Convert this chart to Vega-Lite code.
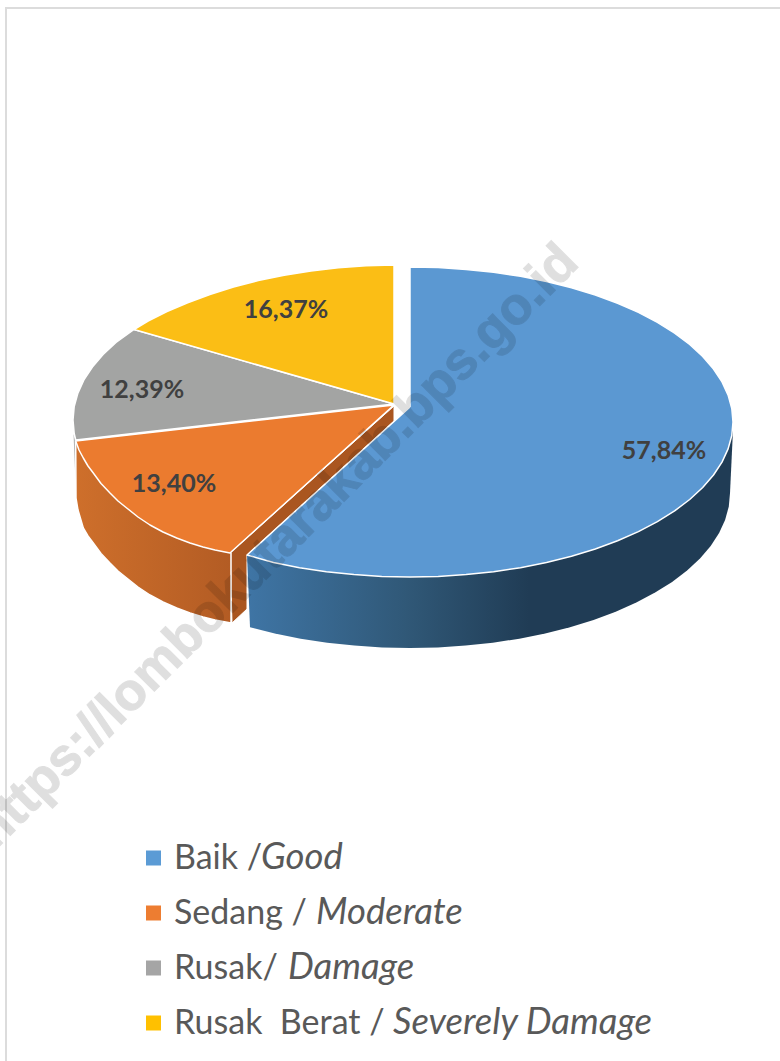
{"$schema":"https://vega.github.io/schema/vega-lite/v6.json","width":780,"height":1061,"autosize":{"type":"none"},"padding":0,"background":"white","view":{"stroke":null},
"datasets":{
"shapes":[
{"p":"frame","i":0,"x":6,"y":1061},{"p":"frame","i":1,"x":6,"y":8},{"p":"frame","i":2,"x":780,"y":8},
{"p":"gw","i":0,"x":73.5,"y":434},{"p":"gw","i":1,"x":76,"y":441},{"p":"gw","i":2,"x":78,"y":500},{"p":"gw","i":3,"x":75,"y":470},{"p":"gw","i":4,"x":73.5,"y":434},
{"p":"strip","i":0,"x":394,"y":406},{"p":"strip","i":1,"x":394,"y":421},{"p":"strip","i":2,"x":247,"y":555},{"p":"strip","i":3,"x":247,"y":609},{"p":"strip","i":4,"x":232,"y":623},{"p":"strip","i":5,"x":230,"y":553},{"p":"strip","i":6,"x":394,"y":406},
{"p":"ow","i":0,"x":75.7,"y":441},{"p":"ow","i":1,"x":76,"y":498},{"p":"ow","i":2,"x":78,"y":510},{"p":"ow","i":3,"x":83.3,"y":528},{"p":"ow","i":4,"x":88,"y":536},{"p":"ow","i":5,"x":93.3,"y":543},{"p":"ow","i":6,"x":101,"y":553.5},{"p":"ow","i":7,"x":110,"y":563},{"p":"ow","i":8,"x":118,"y":571},{"p":"ow","i":9,"x":126.7,"y":578},{"p":"ow","i":10,"x":138,"y":587},{"p":"ow","i":11,"x":150,"y":595},{"p":"ow","i":12,"x":163,"y":602},{"p":"ow","i":13,"x":176.7,"y":608},{"p":"ow","i":14,"x":190,"y":613},{"p":"ow","i":15,"x":203,"y":617},{"p":"ow","i":16,"x":215,"y":620},{"p":"ow","i":17,"x":231,"y":623},{"p":"ow","i":18,"x":231,"y":553},{"p":"ow","i":19,"x":75.7,"y":441},
{"p":"bw","i":0,"x":733,"y":430},{"p":"bw","i":1,"x":730,"y":493},{"p":"bw","i":2,"x":728.8,"y":506.5},{"p":"bw","i":3,"x":725.1,"y":519.9},{"p":"bw","i":4,"x":719.1,"y":533.1},{"p":"bw","i":5,"x":710.7,"y":546},{"p":"bw","i":6,"x":700,"y":558.5},{"p":"bw","i":7,"x":687.1,"y":570.5},{"p":"bw","i":8,"x":672.1,"y":581.9},{"p":"bw","i":9,"x":655.1,"y":592.6},{"p":"bw","i":10,"x":636.3,"y":602.6},{"p":"bw","i":11,"x":615.7,"y":611.7},{"p":"bw","i":12,"x":593.6,"y":620},{"p":"bw","i":13,"x":570,"y":627.2},{"p":"bw","i":14,"x":545.2,"y":633.5},{"p":"bw","i":15,"x":519.4,"y":638.7},{"p":"bw","i":16,"x":492.8,"y":642.7},{"p":"bw","i":17,"x":465.6,"y":645.6},{"p":"bw","i":18,"x":437.9,"y":647.4},{"p":"bw","i":19,"x":410,"y":648},{"p":"bw","i":20,"x":382.1,"y":647.4},{"p":"bw","i":21,"x":354.4,"y":645.6},{"p":"bw","i":22,"x":327.2,"y":642.7},{"p":"bw","i":23,"x":300.6,"y":638.7},{"p":"bw","i":24,"x":274.8,"y":633.5},{"p":"bw","i":25,"x":250,"y":627.2},{"p":"bw","i":26,"x":247,"y":555},{"p":"bw","i":27,"x":733,"y":430},
{"p":"grey","i":0,"x":394,"y":404},{"p":"grey","i":1,"x":134,"y":329.5},{"p":"grey","i":2,"x":116,"y":342.5},{"p":"grey","i":3,"x":103.1,"y":354.5},{"p":"grey","i":4,"x":92.4,"y":367},{"p":"grey","i":5,"x":83.9,"y":379.9},{"p":"grey","i":6,"x":77.9,"y":393.1},{"p":"grey","i":7,"x":74.2,"y":406.5},{"p":"grey","i":8,"x":73,"y":420},{"p":"grey","i":9,"x":74.2,"y":433.5},{"p":"grey","i":10,"x":75.7,"y":440},{"p":"grey","i":11,"x":394,"y":404},
{"p":"yellow","i":0,"x":394,"y":404},{"p":"yellow","i":1,"x":394,"y":265},{"p":"yellow","i":2,"x":366,"y":265.8},{"p":"yellow","i":3,"x":338.3,"y":267.8},{"p":"yellow","i":4,"x":310.9,"y":271},{"p":"yellow","i":5,"x":284.2,"y":275.3},{"p":"yellow","i":6,"x":258.3,"y":280.5},{"p":"yellow","i":7,"x":233.5,"y":287},{"p":"yellow","i":8,"x":209.9,"y":294.5},{"p":"yellow","i":9,"x":187.7,"y":302.8},{"p":"yellow","i":10,"x":167,"y":311.5},{"p":"yellow","i":11,"x":148.1,"y":321},{"p":"yellow","i":12,"x":134,"y":329.5},{"p":"yellow","i":13,"x":394,"y":404},
{"p":"orange","i":0,"x":394,"y":405},{"p":"orange","i":1,"x":75.7,"y":441},{"p":"orange","i":2,"x":79,"y":450},{"p":"orange","i":3,"x":83.3,"y":458},{"p":"orange","i":4,"x":88,"y":466},{"p":"orange","i":5,"x":93.3,"y":473},{"p":"orange","i":6,"x":101,"y":483.5},{"p":"orange","i":7,"x":110,"y":493},{"p":"orange","i":8,"x":118,"y":501},{"p":"orange","i":9,"x":126.7,"y":508},{"p":"orange","i":10,"x":138,"y":517},{"p":"orange","i":11,"x":150,"y":525},{"p":"orange","i":12,"x":163,"y":532},{"p":"orange","i":13,"x":176.7,"y":538},{"p":"orange","i":14,"x":190,"y":543},{"p":"orange","i":15,"x":203,"y":547},{"p":"orange","i":16,"x":215,"y":550},{"p":"orange","i":17,"x":230,"y":553},{"p":"orange","i":18,"x":394,"y":405},
{"p":"blue","i":0,"x":410,"y":407},{"p":"blue","i":1,"x":410,"y":267},{"p":"blue","i":2,"x":438.2,"y":267.6},{"p":"blue","i":3,"x":466.1,"y":269.4},{"p":"blue","i":4,"x":493.6,"y":272.3},{"p":"blue","i":5,"x":520.5,"y":276.3},{"p":"blue","i":6,"x":546.5,"y":281.5},{"p":"blue","i":7,"x":571.5,"y":287.8},{"p":"blue","i":8,"x":595.3,"y":295},{"p":"blue","i":9,"x":617.6,"y":303.3},{"p":"blue","i":10,"x":638.4,"y":312.4},{"p":"blue","i":11,"x":657.4,"y":322.4},{"p":"blue","i":12,"x":674.6,"y":333.1},{"p":"blue","i":13,"x":689.7,"y":344.5},{"p":"blue","i":14,"x":702.7,"y":356.5},{"p":"blue","i":15,"x":713.5,"y":369},{"p":"blue","i":16,"x":722,"y":381.9},{"p":"blue","i":17,"x":728.1,"y":395.1},{"p":"blue","i":18,"x":731.8,"y":408.5},{"p":"blue","i":19,"x":733,"y":422},{"p":"blue","i":20,"x":731.8,"y":435.5},{"p":"blue","i":21,"x":728.1,"y":448.9},{"p":"blue","i":22,"x":722,"y":462.1},{"p":"blue","i":23,"x":713.5,"y":475},{"p":"blue","i":24,"x":702.7,"y":487.5},{"p":"blue","i":25,"x":689.7,"y":499.5},{"p":"blue","i":26,"x":674.6,"y":510.9},{"p":"blue","i":27,"x":657.4,"y":521.6},{"p":"blue","i":28,"x":638.4,"y":531.6},{"p":"blue","i":29,"x":617.6,"y":540.7},{"p":"blue","i":30,"x":595.3,"y":549},{"p":"blue","i":31,"x":571.5,"y":556.2},{"p":"blue","i":32,"x":546.5,"y":562.5},{"p":"blue","i":33,"x":520.5,"y":567.7},{"p":"blue","i":34,"x":493.6,"y":571.7},{"p":"blue","i":35,"x":466.1,"y":574.6},{"p":"blue","i":36,"x":438.2,"y":576.4},{"p":"blue","i":37,"x":410,"y":577},{"p":"blue","i":38,"x":381.8,"y":576.4},{"p":"blue","i":39,"x":353.9,"y":574.6},{"p":"blue","i":40,"x":326.4,"y":571.7},{"p":"blue","i":41,"x":299.5,"y":567.7},{"p":"blue","i":42,"x":273.5,"y":562.5},{"p":"blue","i":43,"x":247,"y":555},{"p":"blue","i":44,"x":410,"y":407}
],
"shares":[
{"category":"Baik /Good","share":57.84,"label":"57,84%","x":664,"y":451,"roman":"Baik /","italic":"Good","rx":174,"ix":261,"ly":858,"lb":869},
{"category":"Sedang / Moderate","share":13.40,"label":"13,40%","x":174,"y":484,"roman":"Sedang /","italic":"Moderate","rx":174,"ix":316,"ly":913,"lb":924},
{"category":"Rusak/ Damage","share":12.39,"label":"12,39%","x":142,"y":390,"roman":"Rusak/","italic":"Damage","rx":174,"ix":288,"ly":968,"lb":979},
{"category":"Rusak  Berat / Severely Damage","share":16.37,"label":"16,37%","x":286,"y":310,"roman":"Rusak\u00a0\u00a0Berat /","italic":"Severely Damage","rx":174,"ix":393,"ly":1023,"lb":1034}
],
"mark":[{"t":"https://lombokutarakab.bps.go.id","x":276.5,"y":546.5}]
},
"layer":[
{"data":{"name":"shapes"},"transform":[{"filter":"datum.p==='frame'"}],"mark":{"type":"line","stroke":"#DCDCDC","strokeWidth":2},"encoding":{"x":{"field":"x","type":"quantitative","scale":{"domain":[0,780],"nice":false,"zero":false},"axis":null},"y":{"field":"y","type":"quantitative","scale":{"domain":[1061,0],"nice":false,"zero":false},"axis":null},"order":{"field":"i"}}},
{"data":{"name":"shapes"},"transform":[{"filter":"datum.p==='gw'"}],"mark":{"type":"line","fill":"#B5B5B5","strokeWidth":0},"encoding":{"x":{"field":"x","type":"quantitative","axis":null},"y":{"field":"y","type":"quantitative","axis":null},"order":{"field":"i"}}},
{"data":{"name":"shapes"},"transform":[{"filter":"datum.p==='strip'"}],"mark":{"type":"line","fill":"#AA5620","stroke":"#FFFFFF","strokeWidth":1,"strokeJoin":"round"},"encoding":{"x":{"field":"x","type":"quantitative","axis":null},"y":{"field":"y","type":"quantitative","axis":null},"order":{"field":"i"}}},
{"data":{"name":"shapes"},"transform":[{"filter":"datum.p==='ow'"}],"mark":{"type":"line","fill":{"gradient":"linear","x1":0,"y1":0,"x2":1,"y2":0,"stops":[{"offset":0,"color":"#CE6F2B"},{"offset":1,"color":"#B35C24"}]},"stroke":"#FFFFFF","strokeWidth":1.5,"strokeJoin":"round"},"encoding":{"x":{"field":"x","type":"quantitative","axis":null},"y":{"field":"y","type":"quantitative","axis":null},"order":{"field":"i"}}},
{"data":{"name":"shapes"},"transform":[{"filter":"datum.p==='bw'"}],"mark":{"type":"line","fill":{"gradient":"linear","x1":0,"y1":0,"x2":1,"y2":0,"stops":[{"offset":0,"color":"#3F75A5"},{"offset":0.33,"color":"#305877"},{"offset":0.58,"color":"#203C55"},{"offset":1,"color":"#203C55"}]},"strokeWidth":0},"encoding":{"x":{"field":"x","type":"quantitative","axis":null},"y":{"field":"y","type":"quantitative","axis":null},"order":{"field":"i"}}},
{"data":{"name":"shapes"},"transform":[{"filter":"datum.p==='grey'"}],"mark":{"type":"line","fill":"#A3A4A3","stroke":"#FFFFFF","strokeWidth":1.5,"strokeJoin":"round"},"encoding":{"x":{"field":"x","type":"quantitative","axis":null},"y":{"field":"y","type":"quantitative","axis":null},"order":{"field":"i"}}},
{"data":{"name":"shapes"},"transform":[{"filter":"datum.p==='yellow'"}],"mark":{"type":"line","fill":"#FBBE15","stroke":"#FFFFFF","strokeWidth":1.5,"strokeJoin":"round"},"encoding":{"x":{"field":"x","type":"quantitative","axis":null},"y":{"field":"y","type":"quantitative","axis":null},"order":{"field":"i"}}},
{"data":{"name":"shapes"},"transform":[{"filter":"datum.p==='orange'"}],"mark":{"type":"line","fill":"#EB7B2F","stroke":"#FFFFFF","strokeWidth":1.5,"strokeJoin":"round"},"encoding":{"x":{"field":"x","type":"quantitative","axis":null},"y":{"field":"y","type":"quantitative","axis":null},"order":{"field":"i"}}},
{"data":{"name":"shapes"},"transform":[{"filter":"datum.p==='blue'"}],"mark":{"type":"line","fill":"#5B98D2","stroke":"#FFFFFF","strokeWidth":1.5,"strokeJoin":"round"},"encoding":{"x":{"field":"x","type":"quantitative","axis":null},"y":{"field":"y","type":"quantitative","axis":null},"order":{"field":"i"}}},
{"data":{"name":"mark"},"mark":{"type":"text","font":"Liberation Sans","fontWeight":"bold","fontSize":52.5,"angle":315,"align":"center","baseline":"middle","color":"#000000","stroke":"#000000","strokeWidth":1,"opacity":0.12},"encoding":{"x":{"field":"x","type":"quantitative","axis":null},"y":{"field":"y","type":"quantitative","axis":null},"text":{"field":"t"}}},
{"data":{"name":"shares"},"mark":{"type":"text","font":"Lato","fontWeight":"bold","fontSize":25,"align":"center","baseline":"middle","color":"#404040"},"encoding":{"x":{"field":"x","type":"quantitative","axis":null},"y":{"field":"y","type":"quantitative","axis":null},"text":{"field":"label"}}},
{"data":{"name":"shares"},"mark":{"type":"point","shape":"square","filled":true,"size":225,"opacity":1},"encoding":{"x":{"datum":153.5,"type":"quantitative","axis":null},"y":{"field":"ly","type":"quantitative","axis":null},"color":{"field":"category","type":"nominal","scale":{"domain":["Baik /Good","Sedang / Moderate","Rusak/ Damage","Rusak  Berat / Severely Damage"],"range":["#5B9BD5","#ED7D31","#A5A5A5","#FFC000"]},"legend":null}}},
{"data":{"name":"shares"},"mark":{"type":"text","font":"Lato","fontSize":34,"align":"left","baseline":"alphabetic","color":"#595959"},"encoding":{"x":{"field":"rx","type":"quantitative","axis":null},"y":{"field":"lb","type":"quantitative","axis":null},"text":{"field":"roman"}}},
{"data":{"name":"shares"},"mark":{"type":"text","font":"Lato","fontStyle":"italic","fontSize":36.5,"align":"left","baseline":"alphabetic","color":"#595959"},"encoding":{"x":{"field":"ix","type":"quantitative","axis":null},"y":{"field":"lb","type":"quantitative","axis":null},"text":{"field":"italic"}}}
]}
